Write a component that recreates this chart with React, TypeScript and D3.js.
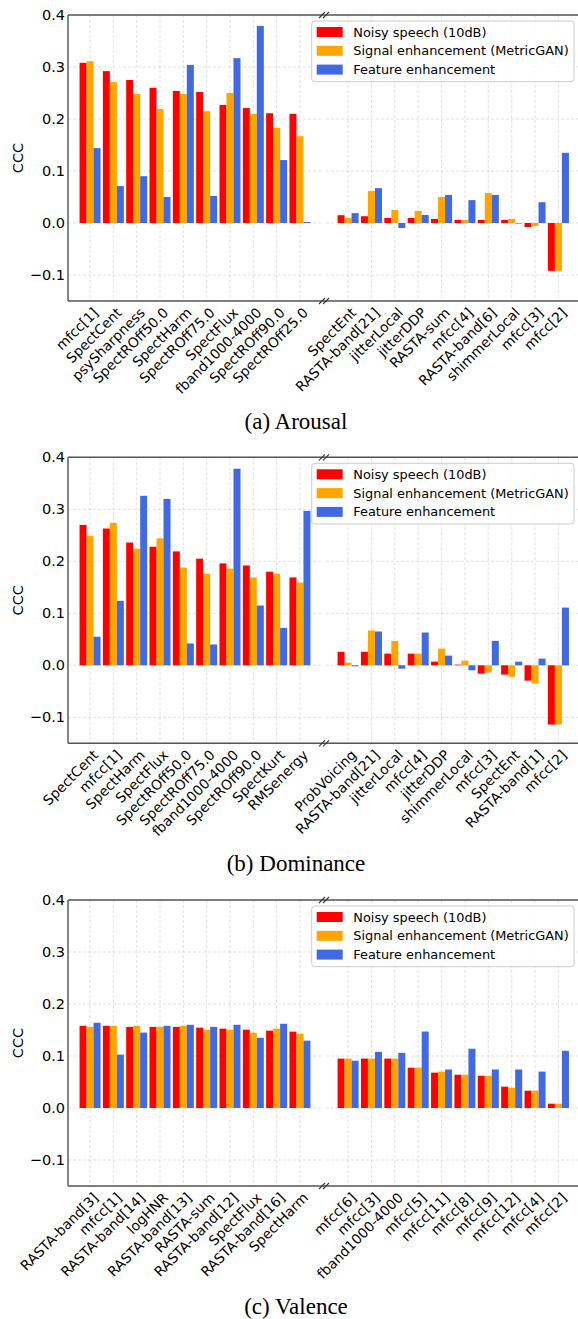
import React from "react";
import * as d3 from "d3";

// series names + colours
const seriesNames = ["Noisy speech (10dB)", "Signal enhancement (MetricGAN)", "Feature enhancement"];
const seriesColors = ["#ff0000", "#ffa500", "#4169e1"];
const yTicks = [-0.1, 0.0, 0.1, 0.2, 0.3, 0.4];

// (a) Arousal
const arousalLabels = [
  "mfcc[1]", "SpectCent", "psySharpness", "SpectROff50.0", "SpectHarm", "SpectROff75.0", "SpectFlux",
  "fband1000-4000", "SpectROff90.0", "SpectROff25.0",
  "SpectEnt", "RASTA-band[21]", "jitterLocal", "jitterDDP", "RASTA-sum", "mfcc[4]", "RASTA-band[6]",
  "shimmerLocal", "mfcc[3]", "mfcc[2]",
];
const arousalNoisy = [0.308, 0.292, 0.275, 0.26, 0.254, 0.252, 0.227, 0.221, 0.211, 0.21,
  0.015, 0.013, 0.0096, 0.0096, 0.0077, 0.0058, 0.0058, 0.0058, -0.0077, -0.092];
const arousalSignal = [0.311, 0.271, 0.248, 0.219, 0.248, 0.215, 0.25, 0.21, 0.183, 0.167,
  0.0096, 0.0615, 0.025, 0.023, 0.05, 0.0058, 0.0577, 0.0077, -0.0058, -0.092];
const arousalFeature = [0.144, 0.071, 0.09, 0.05, 0.304, 0.052, 0.317, 0.379, 0.121, 0.002,
  0.019, 0.067, -0.0096, 0.0154, 0.054, 0.044, 0.054, -0.001, 0.04, 0.135];

// (b) Dominance
const dominanceLabels = [
  "SpectCent", "mfcc[1]", "SpectHarm", "SpectFlux", "SpectROff50.0", "SpectROff75.0", "fband1000-4000",
  "SpectROff90.0", "SpectKurt", "RMSenergy",
  "ProbVoicing", "RASTA-band[21]", "jitterLocal", "mfcc[4]", "jitterDDP", "shimmerLocal", "mfcc[3]",
  "SpectEnt", "RASTA-band[1]", "mfcc[2]",
];
const dominanceNoisy = [0.27, 0.263, 0.236, 0.228, 0.219, 0.205, 0.196, 0.192, 0.18, 0.169,
  0.026, 0.026, 0.0224, 0.0224, 0.007, 0.0013, -0.016, -0.018, -0.0295, -0.114];
const dominanceSignal = [0.249, 0.274, 0.224, 0.244, 0.188, 0.176, 0.186, 0.169, 0.176, 0.159,
  0.005, 0.067, 0.047, 0.0224, 0.032, 0.009, -0.014, -0.022, -0.035, -0.114];
const dominanceFeature = [0.055, 0.124, 0.326, 0.32, 0.042, 0.04, 0.378, 0.115, 0.072, 0.297,
  -0.002, 0.065, -0.0064, 0.063, 0.0186, -0.0096, 0.047, 0.007, 0.0128, 0.111];

// (c) Valence
const valenceLabels = [
  "RASTA-band[3]", "mfcc[1]", "RASTA-band[14]", "logHNR", "RASTA-band[13]", "RASTA-sum", "RASTA-band[12]",
  "SpectFlux", "RASTA-band[16]", "SpectHarm",
  "mfcc[6]", "mfcc[3]", "fband1000-4000", "mfcc[5]", "mfcc[11]", "mfcc[8]", "mfcc[9]", "mfcc[12]",
  "mfcc[4]", "mfcc[2]",
];
const valenceNoisy = [0.158, 0.158, 0.156, 0.156, 0.156, 0.1545, 0.1526, 0.1506, 0.1487, 0.1468,
  0.095, 0.095, 0.095, 0.0776, 0.068, 0.064, 0.062, 0.041, 0.0333, 0.0083];
const valenceSignal = [0.156, 0.158, 0.158, 0.156, 0.158, 0.1506, 0.1506, 0.1449, 0.1526, 0.143,
  0.095, 0.095, 0.095, 0.0776, 0.07, 0.064, 0.062, 0.039, 0.0333, 0.0083];
const valenceFeature = [0.164, 0.1026, 0.145, 0.158, 0.16, 0.156, 0.16, 0.135, 0.162, 0.1295,
  0.091, 0.108, 0.106, 0.147, 0.074, 0.114, 0.074, 0.074, 0.07, 0.11];

const SANS = "DejaVu Sans, sans-serif";
const SERIF = "Liberation Serif, Times New Roman, serif";

const PANEL_H = 286;
const LEFT_X: [number, number] = [68, 322];
const RIGHT_X: [number, number] = [326, 580.5];

type PanelProps = {
  top: number;
  labels: string[];
  series: number[][];
  caption: string;
};

const Panel = ({ top, labels, series, caption }: PanelProps) => {
  const bottom = top + PANEL_H;
  const y = d3.scaleLinear().domain([-0.15, 0.4]).range([bottom, top]);
  const halves = [
    d3.scaleLinear().domain([-0.945, 9.945]).range(LEFT_X),
    d3.scaleLinear().domain([-0.945, 9.945]).range(RIGHT_X),
  ];
  const barW = 0.3;
  const fmt = (v: number) => d3.format(".1f")(v).replace("-", "\u2212");

  return (
    <g>
      {/* grid */}
      {halves.map((x, h) => (
        <g key={"grid" + h}>
          {yTicks.map((t) => (
            <line key={t} x1={x.range()[0]} x2={x.range()[1]} y1={y(t)} y2={y(t)}
                  stroke="#bbbbbb" strokeOpacity={0.55} strokeDasharray="3,2" strokeWidth={0.8} />
          ))}
          {d3.range(10).map((i) => (
            <line key={i} x1={x(i)} x2={x(i)} y1={top} y2={bottom}
                  stroke="#bbbbbb" strokeOpacity={0.55} strokeDasharray="3,2" strokeWidth={0.8} />
          ))}
        </g>
      ))}

      {/* bars */}
      {halves.map((x, h) => (
        <g key={"bars" + h}>
          {series.map((vals, s) =>
            vals.slice(h * 10, h * 10 + 10).map((v, i) => {
              const x0 = x(i + (s - 1) * barW - barW / 2);
              const x1 = x(i + (s - 1) * barW + barW / 2);
              return (
                <rect key={s + "-" + i} x={x0} width={x1 - x0}
                      y={Math.min(y(v), y(0))} height={Math.abs(y(v) - y(0))}
                      fill={seriesColors[s]} />
              );
            })
          )}
        </g>
      ))}

      {/* spines */}
      <line x1={LEFT_X[0]} x2={578} y1={top} y2={top} stroke="#555" strokeWidth={1.4} />
      <line x1={LEFT_X[0]} x2={578} y1={bottom} y2={bottom} stroke="#555" strokeWidth={1.4} />
      <line x1={LEFT_X[0]} x2={LEFT_X[0]} y1={top} y2={bottom} stroke="#666" strokeWidth={1.6} />

      {/* break marks */}
      {[top, bottom].map((yy) =>
        [LEFT_X[1], RIGHT_X[0]].map((xx) => (
          <line key={yy + "-" + xx} x1={xx - 3} y1={yy + 3} x2={xx + 3} y2={yy - 3}
                stroke="#333" strokeWidth={1.1} />
        ))
      )}

      {/* y ticks */}
      {yTicks.map((t) => (
        <text key={t} x={LEFT_X[0] - 3} y={y(t)} textAnchor="end" dominantBaseline="central"
              fontFamily={SANS} fontSize={14.5} fill="#000">
          {fmt(t)}
        </text>
      ))}
      <text transform={`translate(18,${(top + bottom) / 2}) rotate(-90)`} textAnchor="middle"
            dominantBaseline="central" fontFamily={SANS} fontSize={14.5}>
        CCC
      </text>

      {/* x tick labels */}
      {halves.map((x, h) =>
        d3.range(10).map((i) => (
          <text key={h + "-" + i} transform={`translate(${x(i) + 1.5},${bottom + 5}) rotate(-45)`}
                textAnchor="end" dy="0.78em" fontFamily={SANS} fontSize={13.8} fill="#000">
            {labels[h * 10 + i]}
          </text>
        ))
      )}

      {/* legend */}
      <g transform={`translate(311.7,${top + 6})`}>
        <rect x={0} y={0} width={262.3} height={60.7} rx={3} fill="#fff" fillOpacity={0.85}
              stroke="#cccccc" strokeWidth={1} />
        {seriesNames.map((n, s) => (
          <g key={n} transform={`translate(0,${11 + s * 18.8})`}>
            <rect x={5} y={-5} width={26} height={10} fill={seriesColors[s]} />
            <text x={41.6} y={0} dominantBaseline="central" fontFamily={SANS} fontSize={12.9}>
              {n}
            </text>
          </g>
        ))}
      </g>

      {/* caption */}
      <text x={296} y={bottom + 128} textAnchor="middle" fontFamily={SERIF} fontSize={23}>
        {caption}
      </text>
    </g>
  );
};

const App = () => {
  return (
    <svg width={578} height={1319} style={{ position: "absolute", left: 0, top: 0, background: "#fff" }}>
      <Panel top={15} labels={arousalLabels}
             series={[arousalNoisy, arousalSignal, arousalFeature]} caption="(a)  Arousal" />
      <Panel top={457.3} labels={dominanceLabels}
             series={[dominanceNoisy, dominanceSignal, dominanceFeature]} caption="(b)  Dominance" />
      <Panel top={900} labels={valenceLabels}
             series={[valenceNoisy, valenceSignal, valenceFeature]} caption="(c)  Valence" />
    </svg>
  );
};

export default App;
